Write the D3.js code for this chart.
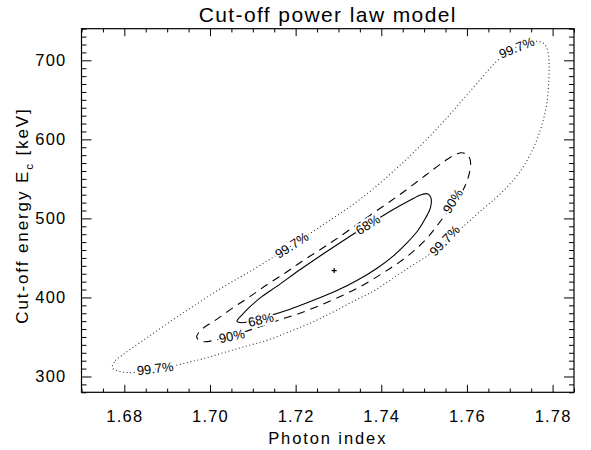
<!DOCTYPE html>
<html>
<head>
<meta charset="utf-8">
<script src="https://cdn.jsdelivr.net/npm/d3@7"></script>
<style>
  html, body { margin: 0; padding: 0; background: #fff; }
  svg { display: block; }
  text { font-family: "Liberation Sans", Arial, sans-serif; fill: #000; }
</style>
</head>
<body>
<svg id="chart" width="591" height="450"></svg>
<script>
// Confidence contours for the cut-off power law fit: photon index vs. cut-off energy.
const title = "Cut-off power law model";
const xTitle = "Photon index";

const xDomain = [1.67, 1.785];
const yDomain = [280, 740];
const xMajorTicks = [1.68, 1.70, 1.72, 1.74, 1.76, 1.78];
const yMajorTicks = [300, 400, 500, 600, 700];

// Best-fit point
const bestFit = [1.729, 434];

// Contour outlines [photon index, E_c in keV]
const contour68 = [
  [1.7063, 370], [1.7075, 378], [1.7093, 388], [1.7121, 401], [1.7156, 414],
  [1.7210, 435], [1.7264, 455], [1.7320, 475], [1.7373, 493], [1.7427, 511],
  [1.7467, 523], [1.7493, 530], [1.7509, 531], [1.7516, 526], [1.7515, 514],
  [1.7504, 501], [1.7486, 485], [1.7460, 469], [1.7427, 452], [1.7390, 437],
  [1.7345, 422], [1.7294, 408], [1.7240, 396], [1.7187, 385], [1.7140, 377],
  [1.7098, 371], [1.7075, 368]
];
const contour90 = [
  [1.6969, 351], [1.6984, 361], [1.7012, 371], [1.7054, 387], [1.7093, 401],
  [1.7133, 416], [1.7173, 430], [1.7210, 444], [1.7287, 471], [1.7366, 501],
  [1.7443, 530], [1.7502, 554], [1.7544, 571], [1.7570, 580], [1.7588, 583],
  [1.7602, 580], [1.7608, 573], [1.7607, 561], [1.7600, 547], [1.7588, 533],
  [1.7572, 520], [1.7553, 507], [1.7532, 492], [1.7507, 475], [1.7476, 459],
  [1.7443, 445], [1.7404, 431], [1.7362, 417], [1.7315, 404], [1.7257, 390],
  [1.7210, 380], [1.7170, 373], [1.7128, 365], [1.7089, 358], [1.7049, 351],
  [1.7012, 346], [1.6986, 344], [1.6972, 347]
];
const contour997 = [
  [1.6772, 311], [1.6779, 320], [1.6795, 327], [1.6818, 336], [1.6853, 349],
  [1.6890, 363], [1.6930, 378], [1.6970, 392], [1.7009, 406], [1.7049, 419],
  [1.7091, 432], [1.7133, 446], [1.7175, 460], [1.7217, 475], [1.7259, 490],
  [1.7303, 506], [1.7345, 522], [1.7387, 540], [1.7427, 559], [1.7467, 579],
  [1.7506, 600], [1.7548, 624], [1.7590, 650], [1.7630, 675], [1.7668, 698],
  [1.7700, 712], [1.7733, 721], [1.7761, 724], [1.7780, 721], [1.7789, 711],
  [1.7792, 694], [1.7791, 673], [1.7787, 647], [1.7777, 622], [1.7763, 599],
  [1.7745, 578], [1.7721, 557], [1.7696, 541], [1.7668, 526], [1.7635, 511],
  [1.7598, 493], [1.7555, 474], [1.7514, 455], [1.7471, 440], [1.7429, 425],
  [1.7385, 409], [1.7338, 396], [1.7289, 382], [1.7240, 369], [1.7191, 358],
  [1.7140, 347], [1.7089, 339], [1.7037, 331], [1.6988, 323], [1.6942, 317],
  [1.6895, 311], [1.6855, 308], [1.6820, 305], [1.6792, 306]
];

// Contour labels [photon index, E_c, angle in degrees]
const labels68 = [[1.7119, 372, -13], [1.7369, 492, -32]];
const labels90 = [[1.7051, 351, -12], [1.7567, 522, -58]];
const labels997 = [[1.6872, 310, -7], [1.7191, 466, -33], [1.7548, 472, -46], [1.7716, 716, -22]];

const svg = d3.select("#chart");
const m = { left: 81.5, right: 574, top: 28.7, bottom: 392.3 };

const x = d3.scaleLinear().domain(xDomain).range([m.left, m.right]);
const y = d3.scaleLinear().domain(yDomain).range([m.bottom, m.top]);

const xMinor = d3.range(0, 24).map(i => +(1.67 + i * 0.005).toFixed(3))
  .filter(v => v <= 1.785 && !xMajorTicks.some(t => Math.abs(t - v) < 1e-6));
const yMinor = d3.range(280, 741, 10).filter(v => !yMajorTicks.includes(v));

const W = m.right - m.left, H = m.bottom - m.top;
const xTickLen = 7.5, yTickLen = 10;

function drawAxis(axisFn, scale, major, minor, majLen, minLen, transform, withLabels, fmt, pad) {
  const gMin = svg.append("g").attr("transform", transform)
    .call(axisFn(scale).tickValues(minor).tickSize(-minLen).tickFormat(""));
  gMin.select(".domain").remove();
  const gMaj = svg.append("g").attr("transform", transform)
    .call(axisFn(scale).tickValues(major).tickSize(-majLen).tickPadding(pad)
      .tickFormat(withLabels ? fmt : ""));
  gMaj.select(".domain").remove();
  [gMin, gMaj].forEach(g => {
    g.selectAll(".tick line").attr("stroke", "#000").attr("stroke-width", 1);
    g.attr("font-family", null).attr("font-size", null);
  });
  gMaj.selectAll(".tick text")
    .style("font-size", "16.5px").style("letter-spacing", "1.2px");
  return gMaj;
}

drawAxis(d3.axisBottom, x, xMajorTicks, xMinor, xTickLen, xTickLen / 2,
  `translate(0,${m.bottom})`, true, d3.format(".2f"), 18);
drawAxis(d3.axisTop, x, xMajorTicks, xMinor, xTickLen, xTickLen / 2,
  `translate(0,${m.top})`, false, null, 0);
drawAxis(d3.axisLeft, y, yMajorTicks, yMinor, yTickLen, yTickLen / 2,
  `translate(${m.left},0)`, true, d3.format("d"), 15);
drawAxis(d3.axisRight, y, yMajorTicks, yMinor, yTickLen, yTickLen / 2,
  `translate(${m.right},0)`, false, null, 0);

// Plot frame
svg.append("rect")
  .attr("x", m.left).attr("y", m.top).attr("width", W).attr("height", H)
  .attr("fill", "none").attr("stroke", "#000").attr("stroke-width", 1.2);

// Contours
const line = d3.line()
  .x(d => x(d[0])).y(d => y(d[1]))
  .curve(d3.curveCatmullRomClosed.alpha(0.5));

const contours = [
  { pts: contour997, dash: "1,2.6", width: 1.1, color: "#333", labels: labels997, text: "99.7%" },
  { pts: contour90, dash: "8,6", width: 1.1, color: "#000", labels: labels90, text: "90%" },
  { pts: contour68, dash: null, width: 1.1, color: "#000", labels: labels68, text: "68%" }
];

const gC = svg.append("g");
contours.forEach(c => {
  gC.append("path")
    .attr("d", line(c.pts))
    .attr("fill", "none")
    .attr("stroke", c.color)
    .attr("stroke-width", c.width)
    .attr("stroke-dasharray", c.dash);
});
contours.forEach(c => {
  gC.selectAll(null).data(c.labels).join("text")
    .attr("transform", d => `translate(${x(d[0])},${y(d[1])}) rotate(${d[2]})`)
    .attr("text-anchor", "middle")
    .attr("dominant-baseline", "central")
    .style("font-size", "13px")
    .style("stroke", "#fff").style("stroke-width", 4).style("paint-order", "stroke")
    .text(c.text);
});

// Best-fit marker
const cx = x(bestFit[0]), cy = y(bestFit[1]);
svg.append("path")
  .attr("d", `M${cx - 2.5},${cy}H${cx + 2.5}M${cx},${cy - 2.5}V${cy + 2.5}`)
  .attr("stroke", "#000").attr("stroke-width", 1.2);

// Titles
svg.append("text")
  .attr("x", (m.left + m.right) / 2).attr("y", 22)
  .attr("text-anchor", "middle")
  .style("font-size", "21px").style("letter-spacing", "1.4px")
  .text(title);

svg.append("text")
  .attr("x", (m.left + m.right) / 2).attr("y", 444)
  .attr("text-anchor", "middle")
  .style("font-size", "16.5px").style("letter-spacing", "1.9px")
  .text(xTitle);

const yt = svg.append("text")
  .attr("transform", `translate(28,${(m.top + m.bottom) / 2 + 5}) rotate(-90)`)
  .attr("text-anchor", "middle")
  .style("font-size", "17px").style("letter-spacing", "1.9px");
yt.append("tspan").text("Cut-off energy E");
yt.append("tspan").attr("dy", 5).style("font-size", "11.5px").text("c");
yt.append("tspan").attr("dy", -5).text(" [keV]");
</script>
</body>
</html>
